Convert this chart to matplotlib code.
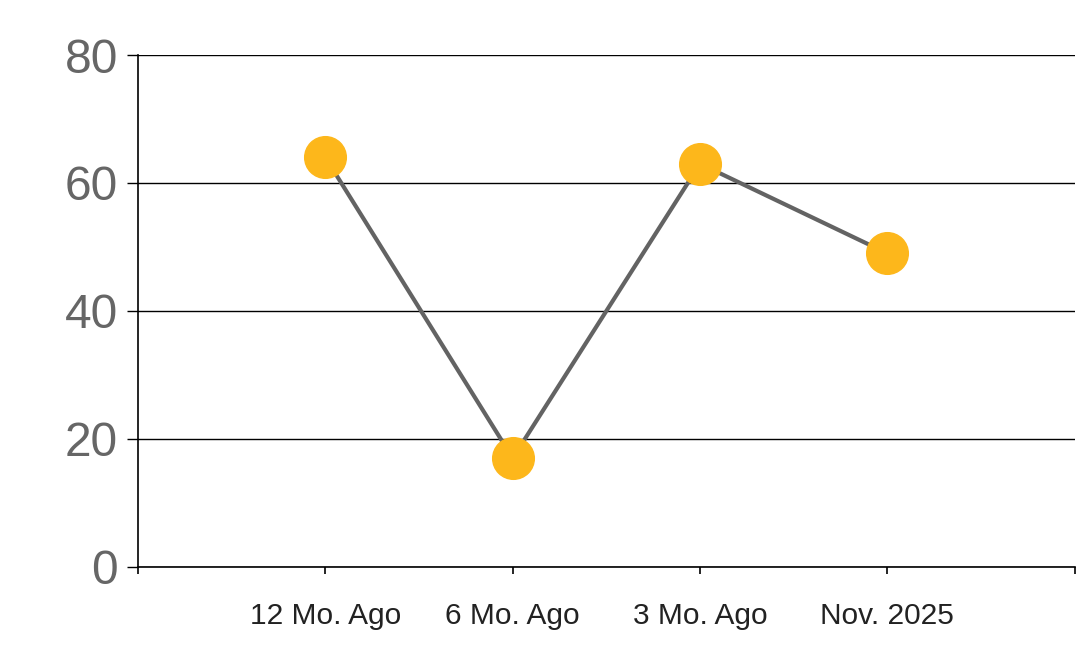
import numpy as np
import matplotlib.pyplot as plt

plt.rcParams['font.family'] = ['Liberation Sans', 'DejaVu Sans']

categories = ["12 Mo. Ago", "6 Mo. Ago", "3 Mo. Ago", "Nov. 2025"]
values = [64, 17, 63, 49]
yticks = [0, 20, 40, 60, 80]

fig = plt.figure(figsize=(10.78, 6.63), dpi=100)
ax = fig.add_axes([0.128, 0.145, 0.869, 0.772])

x = np.arange(len(categories))
ax.plot(x, values, color='#636363', linewidth=3, zorder=3)
ax.plot(x, values, linestyle='none', marker='o', markersize=30,
        markerfacecolor='#FDB71B', markeredgecolor='#FDB71B', zorder=4)

ax.set_xlim(-1, len(categories))
ax.set_ylim(0, 80)
ax.set_yticks(yticks)
ax.set_yticklabels([str(v) for v in yticks], fontsize=34.5, color='#666666')
ax.yaxis.grid(True, color='black', linewidth=1)
ax.set_axisbelow(True)

ax.set_xticks(np.arange(-1, len(categories) + 1))
ax.set_xticklabels([''] + categories + [''], fontsize=21.5, color='#222222')
ax.tick_params(axis='x', length=5, width=1.2, pad=20, color='black')
ax.tick_params(axis='y', length=8, width=1, pad=6.5, color='black')

for s in ['top', 'right']:
    ax.spines[s].set_visible(False)
ax.spines['left'].set_linewidth(1.2)
ax.spines['bottom'].set_linewidth(1.2)

fig.savefig('out.png', dpi=100)
